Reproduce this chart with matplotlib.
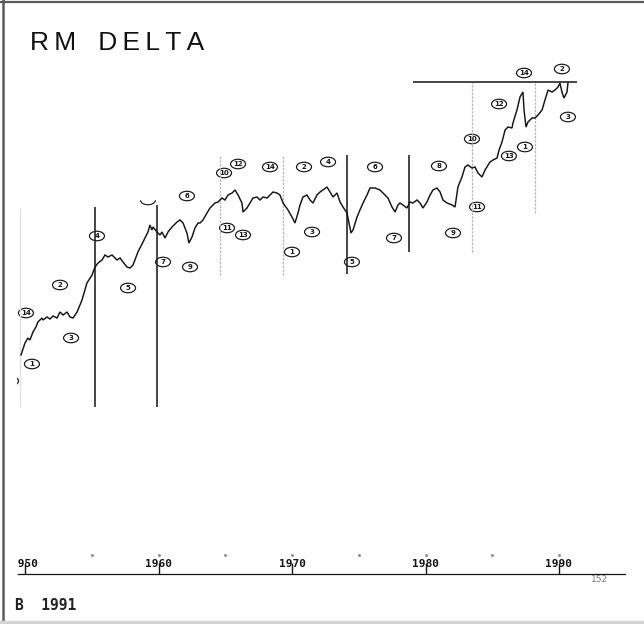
"""Recreate the scanned 'RM DELTA' cycle chart (1950-1991)."""

import matplotlib

matplotlib.use("Agg")
import matplotlib.pyplot as plt
from matplotlib.lines import Line2D
from matplotlib.patches import Arc, Ellipse

W, H = 644, 624
PX_PER_YEAR = 13.35   # horizontal scale of the scan
X_1950 = 25           # pixel column of the 1950 tick
AX_LEFT = 17          # scan is cut off left of this column

# ---------------------------------------------------------------------------
# Data (index level in chart units)
# ---------------------------------------------------------------------------
years = [
    1949.70, 1950.00, 1950.22, 1950.37, 1950.60, 1950.82, 1950.97, 1951.27, 1951.35,
    1951.65, 1951.87, 1952.10, 1952.40, 1952.62, 1952.85, 1953.15, 1953.37, 1953.60,
    1953.90, 1954.27, 1954.64, 1955.02, 1955.24, 1955.47, 1955.77, 1955.99, 1956.22,
    1956.52, 1956.89, 1957.12, 1957.34, 1957.64, 1957.87, 1958.09, 1958.46, 1958.84,
    1959.21, 1959.36, 1959.51, 1959.59, 1959.89, 1960.11, 1960.26, 1960.49, 1960.71,
    1961.01, 1961.39, 1961.61, 1961.84, 1962.13, 1962.28, 1962.51, 1962.73, 1962.96,
    1963.11, 1963.33, 1963.63, 1963.86, 1964.23, 1964.46, 1964.76, 1964.98, 1965.21,
    1965.51, 1965.73, 1965.96, 1966.25, 1966.33, 1966.63, 1966.85, 1967.08, 1967.38,
    1967.60, 1967.83, 1968.13, 1968.35, 1968.58, 1968.88, 1969.10, 1969.33, 1969.70,
    1970.00, 1970.22, 1970.45, 1970.60, 1970.82, 1971.12, 1971.35, 1971.57, 1971.87,
    1972.10, 1972.32, 1972.62, 1972.85, 1973.07, 1973.37, 1973.60, 1973.82, 1974.12,
    1974.27, 1974.42, 1974.57, 1974.87, 1975.09, 1975.32, 1975.62, 1975.84, 1976.22,
    1976.59, 1976.97, 1977.19, 1977.49, 1977.72, 1977.94, 1978.09, 1978.31, 1978.61,
    1978.84, 1979.06, 1979.36, 1979.59, 1979.81, 1980.11, 1980.34, 1980.56, 1980.86,
    1981.09, 1981.31, 1981.61, 1981.99, 1982.21, 1982.43, 1982.73, 1982.96, 1983.18,
    1983.48, 1983.71, 1983.93, 1984.23, 1984.46, 1984.83, 1985.06, 1985.36, 1985.51,
    1985.73, 1985.96, 1986.18, 1986.48, 1986.55, 1986.85, 1987.08, 1987.30, 1987.38,
    1987.53, 1987.68, 1987.98, 1988.20, 1988.43, 1988.73, 1988.95, 1989.18, 1989.48,
    1989.70, 1989.93, 1990.07, 1990.22, 1990.37, 1990.60, 1990.67,
]
index = [
    269, 281, 286, 284, 292, 297, 302, 306, 304,
    307, 305, 308, 306, 312, 309, 312, 307, 306,
    312, 324, 341, 349, 357, 361, 364, 369, 367,
    369, 364, 366, 362, 357, 356, 359, 372, 382,
    392, 399, 394, 397, 392, 389, 392, 386, 392,
    397, 402, 404, 401, 391, 381, 387, 396, 401,
    401, 404, 411, 416, 421, 422, 426, 424, 429,
    431, 434, 429, 421, 412, 416, 421, 426, 427,
    424, 427, 426, 429, 432, 431, 429, 421, 414,
    407, 401, 411, 419, 427, 429, 424, 421, 429,
    432, 434, 437, 432, 427, 431, 422, 417, 411,
    401, 391, 394, 407, 414, 421, 429, 436, 436,
    434, 429, 426, 417, 412, 419, 421, 419, 416,
    422, 421, 424, 421, 416, 422, 429, 434, 436,
    432, 424, 421, 419, 417, 437, 447, 457, 459,
    456, 457, 451, 447, 454, 462, 464, 466, 474,
    482, 494, 497, 496, 501, 514, 527, 532, 514,
    497, 502, 506, 506, 509, 514, 524, 534, 532,
    534, 537, 541, 532, 526, 532, 541,
]

# cycle troughs (vertical markers): year, top, bottom, solid?
cycle_years = [1955.24, 1959.89, 1964.61, 1969.33, 1974.12, 1978.76, 1983.48, 1988.20]
cycle_tops = [417, 419, 469, 469, 469, 469, 542, 542]
cycle_bottoms = [217, 217, 349, 349, 350, 372, 372, 411]
cycle_solid = [True, True, False, False, True, True, False, False]

# horizontal resistance line at the top right
top_level = 542
top_from, top_to = 1979.06, 1991.35

# circled cycle counts: year, level, label
count_years = [
    1948.95, 1950.52, 1950.07, 1952.62, 1953.45, 1955.39, 1957.72, 1962.13, 1960.34,
    1962.36, 1964.91, 1965.96, 1968.35, 1965.13, 1966.33, 1970.90, 1972.70, 1970.00,
    1971.50, 1974.49, 1976.22, 1977.64, 1981.01, 1982.06, 1983.48, 1983.86, 1985.51,
    1986.25, 1987.45, 1987.38, 1990.22, 1990.67,
]
count_levels = [
    243, 260, 311, 339, 286, 388, 336, 428, 362,
    357, 451, 460, 457, 396, 389, 457, 462, 372,
    392, 362, 457, 386, 458, 391, 485, 417, 520,
    468, 477, 551, 555, 507,
]
count_labels = [
    "3", "1", "14", "2", "3", "4", "5", "6", "7",
    "9", "10", "12", "14", "11", "13", "2", "4", "1",
    "3", "5", "6", "7", "8", "9", "10", "11", "12",
    "13", "1", "14", "2", "3",
]

decades = [1950, 1960, 1970, 1980, 1990]
half_decades = [1955, 1960, 1965, 1970, 1975, 1980, 1985, 1990]

AXIS_LEVEL = 50
INK = "#141414"

fig = plt.figure(figsize=(W / 100, H / 100), dpi=100)
fig.patch.set_facecolor("white")
ax = fig.add_axes([AX_LEFT / W, 0, (W - AX_LEFT) / W, 1])
ax.set_xlim(1950 + (AX_LEFT - X_1950) / PX_PER_YEAR, 1950 + (W - X_1950) / PX_PER_YEAR)
ax.set_ylim(0, H)
ax.set_facecolor("none")

# faint scan edge at the far left
ax.vlines(1949.63, 217, 416, color="#e2e2e2", lw=1.0)

# cycle markers
for yr, top, bot, solid in zip(cycle_years, cycle_tops, cycle_bottoms, cycle_solid):
    if solid:
        ax.vlines(yr, bot, top, color="#262626", lw=1.2)
    else:
        ax.vlines(yr, bot, top, color="#b4b4b4", lw=0.9, linestyles=(0, (2, 1)))
ax.hlines(top_level, top_from, top_to, color="#262626", lw=1.2)

# the index line
ax.plot(years, index, color=INK, lw=1.05, solid_joinstyle="miter")

# circled counts (clipped where the scan is cut off on the left)
ew, eh = 15 / PX_PER_YEAR, 9.5
for yr, lv, lab in zip(count_years, count_levels, count_labels):
    ax.add_patch(Ellipse((yr, lv), ew, eh, fc="white", ec=INK, lw=0.85))
    ax.text(yr, lv - 0.3, lab, ha="center", va="center", fontsize=5,
            fontweight="bold", color=INK, clip_on=True)
# bottom of a circle cut off by the scan
ax.add_patch(Arc((1959.21, 424), ew, eh, theta1=200, theta2=340, color=INK, lw=0.8))

# time axis drawn inside the chart, labels sitting above the line
for side in ("top", "left", "right"):
    ax.spines[side].set_visible(False)
ax.spines["bottom"].set_position(("data", AXIS_LEVEL))
ax.spines["bottom"].set_bounds(1949.45, 1994.94)
ax.spines["bottom"].set_color(INK)
ax.spines["bottom"].set_linewidth(0.9)
ax.set_yticks([])
ax.set_xticks(decades, [str(d) for d in decades])
ax.tick_params(axis="x", direction="in", length=8, width=1.0, color=INK,
               pad=-10.5, labelsize=8, labelcolor=INK)
for lbl in ax.get_xticklabels():
    lbl.set_fontfamily("DejaVu Sans Mono")
    lbl.set_fontweight("bold")
    lbl.set_clip_box(ax.bbox)
    lbl.set_clip_on(True)
ax.plot(half_decades, [AXIS_LEVEL + 19] * len(half_decades), ls="none",
        marker="o", ms=1.1, color="#8a8a8a")

# texts
fig.text(30 / W, 1 - 50 / H, "R\u2009M   D\u2009E\u2009L\u2009T\u2009A",
         fontsize=19, family=["Liberation Sans", "DejaVu Sans"], color="#111111",
         va="baseline", ha="left")
fig.text(600 / W, 1 - 580 / H, "152", fontsize=6.5, color="#7a7a7a",
         ha="center", va="center")
fig.text(15 / W, 1 - 606 / H, "B  1991", fontsize=10.5, family="DejaVu Sans Mono",
         fontweight="bold", color="#222222", ha="left", va="center")

# frame of the scanned page
fig.add_artist(Line2D([0, 1], [1 - 1.5 / H] * 2, transform=fig.transFigure,
                      color="#5a5a5a", lw=1.6))
fig.add_artist(Line2D([3 / W] * 2, [0, 1], transform=fig.transFigure,
                      color="#5a5a5a", lw=1.8))
fig.add_artist(Line2D([0, 1], [2 / H] * 2, transform=fig.transFigure,
                      color="#d4d4d4", lw=2.5))

fig.savefig("out.png", dpi=100)
